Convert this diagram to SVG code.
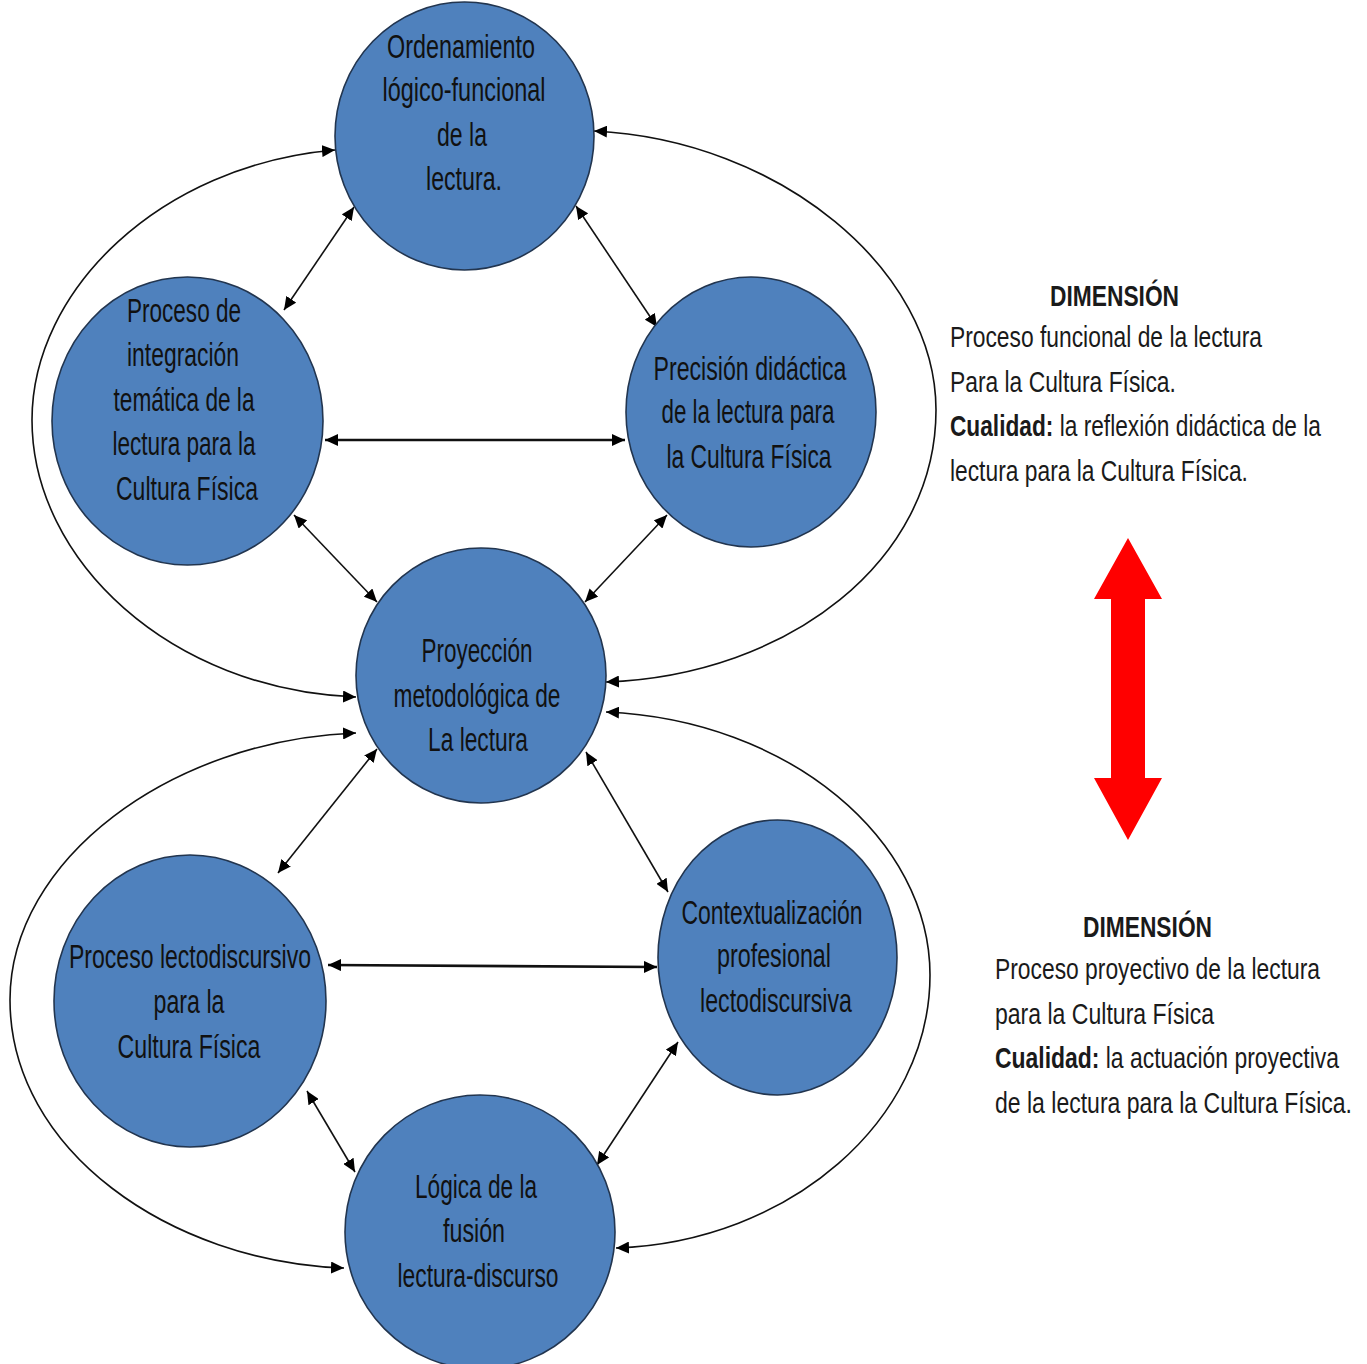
<svg xmlns="http://www.w3.org/2000/svg" width="1367" height="1364" viewBox="0 0 1367 1364">
<style>
.node{fill:#4F81BD;stroke:#22354f;stroke-width:1.6}
.nt{font-family:"Liberation Sans",Arial,sans-serif;font-size:34px;fill:#111;text-anchor:middle}
.side{font-family:"Liberation Sans",Arial,sans-serif;font-size:29px;fill:#1a1a1a}
.b{font-weight:bold}
.con{fill:none;stroke:#111;stroke-width:1.6}
.thick{stroke-width:2.6}
</style>
<defs>
<marker id="ah" markerUnits="userSpaceOnUse" markerWidth="14" markerHeight="12" refX="13" refY="6" orient="auto-start-reverse">
<path d="M0,0 L13,6 L0,12 z" fill="#000"/>
</marker>
</defs>
<rect width="1367" height="1364" fill="#fff"/>

<g id="connectors">
<path class="con" d="M335,150 C160,165 32,290 32,420 C32,560 170,690 356,697" marker-start="url(#ah)" marker-end="url(#ah)"/>
<path class="con" d="M594,131 C780,140 936,270 936,410 C936,560 790,675 606,682" marker-start="url(#ah)" marker-end="url(#ah)"/>
<path class="con" d="M356,733 C170,740 10,860 10,1000 C10,1150 170,1262 344,1268" marker-start="url(#ah)" marker-end="url(#ah)"/>
<path class="con" d="M606,712 C790,720 930,840 930,975 C930,1120 790,1242 616,1248" marker-start="url(#ah)" marker-end="url(#ah)"/>
<line class="con" x1="354" y1="207" x2="284" y2="310" marker-start="url(#ah)" marker-end="url(#ah)"/>
<line class="con" x1="576" y1="206" x2="657" y2="327" marker-start="url(#ah)" marker-end="url(#ah)"/>
<line class="con thick" x1="325" y1="440" x2="625" y2="440" marker-start="url(#ah)" marker-end="url(#ah)"/>
<line class="con" x1="294" y1="515" x2="377" y2="602" marker-start="url(#ah)" marker-end="url(#ah)"/>
<line class="con" x1="667" y1="515" x2="585" y2="602" marker-start="url(#ah)" marker-end="url(#ah)"/>
<line class="con" x1="377" y1="749" x2="278" y2="873" marker-start="url(#ah)" marker-end="url(#ah)"/>
<line class="con" x1="586" y1="752" x2="668" y2="892" marker-start="url(#ah)" marker-end="url(#ah)"/>
<line class="con thick" x1="328" y1="965" x2="657" y2="967" marker-start="url(#ah)" marker-end="url(#ah)"/>
<line class="con" x1="307" y1="1091" x2="355" y2="1172" marker-start="url(#ah)" marker-end="url(#ah)"/>
<line class="con" x1="678" y1="1042" x2="597" y2="1165" marker-start="url(#ah)" marker-end="url(#ah)"/>
</g>

<g id="n-ordenamiento">
<ellipse class="node" cx="464.5" cy="136" rx="129.5" ry="134"/>
<text class="nt" x="461" y="58" textLength="148" lengthAdjust="spacingAndGlyphs">Ordenamiento</text>
<text class="nt" x="464" y="101" textLength="163" lengthAdjust="spacingAndGlyphs">lógico-funcional</text>
<text class="nt" x="462" y="146" textLength="50" lengthAdjust="spacingAndGlyphs">de la</text>
<text class="nt" x="464" y="190" textLength="76" lengthAdjust="spacingAndGlyphs">lectura.</text>
</g>

<g id="n-integracion">
<ellipse class="node" cx="187.5" cy="421" rx="135.5" ry="144"/>
<text class="nt" x="184" y="322" textLength="114" lengthAdjust="spacingAndGlyphs">Proceso de</text>
<text class="nt" x="183" y="366" textLength="112" lengthAdjust="spacingAndGlyphs">integración</text>
<text class="nt" x="184" y="411" textLength="141" lengthAdjust="spacingAndGlyphs">temática de la</text>
<text class="nt" x="184" y="455" textLength="143" lengthAdjust="spacingAndGlyphs">lectura para la</text>
<text class="nt" x="187" y="500" textLength="142" lengthAdjust="spacingAndGlyphs">Cultura Física</text>
</g>

<g id="n-precision">
<ellipse class="node" cx="751" cy="412" rx="125" ry="135"/>
<text class="nt" x="750" y="380" textLength="193" lengthAdjust="spacingAndGlyphs">Precisión didáctica</text>
<text class="nt" x="748" y="423" textLength="173" lengthAdjust="spacingAndGlyphs">de la lectura para</text>
<text class="nt" x="749" y="468" textLength="165" lengthAdjust="spacingAndGlyphs">la Cultura Física</text>
</g>

<g id="n-proyeccion">
<ellipse class="node" cx="481" cy="675.5" rx="125" ry="127.5"/>
<text class="nt" x="477" y="662" textLength="111" lengthAdjust="spacingAndGlyphs">Proyección</text>
<text class="nt" x="477" y="707" textLength="167" lengthAdjust="spacingAndGlyphs">metodológica de</text>
<text class="nt" x="478" y="751" textLength="100" lengthAdjust="spacingAndGlyphs">La lectura</text>
</g>

<g id="n-lectodiscursivo">
<ellipse class="node" cx="190" cy="1001" rx="136" ry="146"/>
<text class="nt" x="190" y="968" textLength="242" lengthAdjust="spacingAndGlyphs">Proceso lectodiscursivo</text>
<text class="nt" x="189" y="1013" textLength="71" lengthAdjust="spacingAndGlyphs">para la</text>
<text class="nt" x="189" y="1058" textLength="143" lengthAdjust="spacingAndGlyphs">Cultura Física</text>
</g>

<g id="n-contextualizacion">
<ellipse class="node" cx="777.5" cy="957.5" rx="119.5" ry="137.5"/>
<text class="nt" x="772" y="924" textLength="181" lengthAdjust="spacingAndGlyphs">Contextualización</text>
<text class="nt" x="774" y="967" textLength="114" lengthAdjust="spacingAndGlyphs">profesional</text>
<text class="nt" x="776" y="1012" textLength="152" lengthAdjust="spacingAndGlyphs">lectodiscursiva</text>
</g>

<g id="n-logica">
<ellipse class="node" cx="480" cy="1232" rx="135" ry="137"/>
<text class="nt" x="476" y="1198" textLength="122" lengthAdjust="spacingAndGlyphs">Lógica de la</text>
<text class="nt" x="474" y="1242" textLength="62" lengthAdjust="spacingAndGlyphs">fusión</text>
<text class="nt" x="478" y="1287" textLength="161" lengthAdjust="spacingAndGlyphs">lectura-discurso</text>
</g>

<g id="dim1" transform="scale(0.78,1)">
<text class="side b" x="1346.2" y="306" textLength="165.4" lengthAdjust="spacingAndGlyphs">DIMENSIÓN</text>
<text class="side" x="1217.9" y="347" textLength="400" lengthAdjust="spacingAndGlyphs">Proceso funcional de la lectura</text>
<text class="side" x="1217.9" y="392" textLength="289.7" lengthAdjust="spacingAndGlyphs">Para la Cultura Física.</text>
<text class="side" x="1217.9" y="436" textLength="475.6" lengthAdjust="spacingAndGlyphs"><tspan class="b">Cualidad:</tspan> la reflexión didáctica de la</text>
<text class="side" x="1217.9" y="481" textLength="382" lengthAdjust="spacingAndGlyphs">lectura para la Cultura Física.</text>
</g>

<g id="dim2" transform="scale(0.78,1)">
<text class="side b" x="1388.5" y="937" textLength="165.4" lengthAdjust="spacingAndGlyphs">DIMENSIÓN</text>
<text class="side" x="1275.6" y="979" textLength="416.7" lengthAdjust="spacingAndGlyphs">Proceso proyectivo de la lectura</text>
<text class="side" x="1275.6" y="1024" textLength="280.8" lengthAdjust="spacingAndGlyphs">para la Cultura Física</text>
<text class="side" x="1275.6" y="1068" textLength="441" lengthAdjust="spacingAndGlyphs"><tspan class="b">Cualidad:</tspan> la actuación proyectiva</text>
<text class="side" x="1275.6" y="1113" textLength="457.7" lengthAdjust="spacingAndGlyphs">de la lectura para la Cultura Física.</text>
</g>

<g id="red-arrow">
<polygon points="1128,538 1162,599 1145,599 1145,778 1162,778 1128,840 1094,778 1111,778 1111,599 1094,599" fill="#FF0000"/>
</g>
</svg>
